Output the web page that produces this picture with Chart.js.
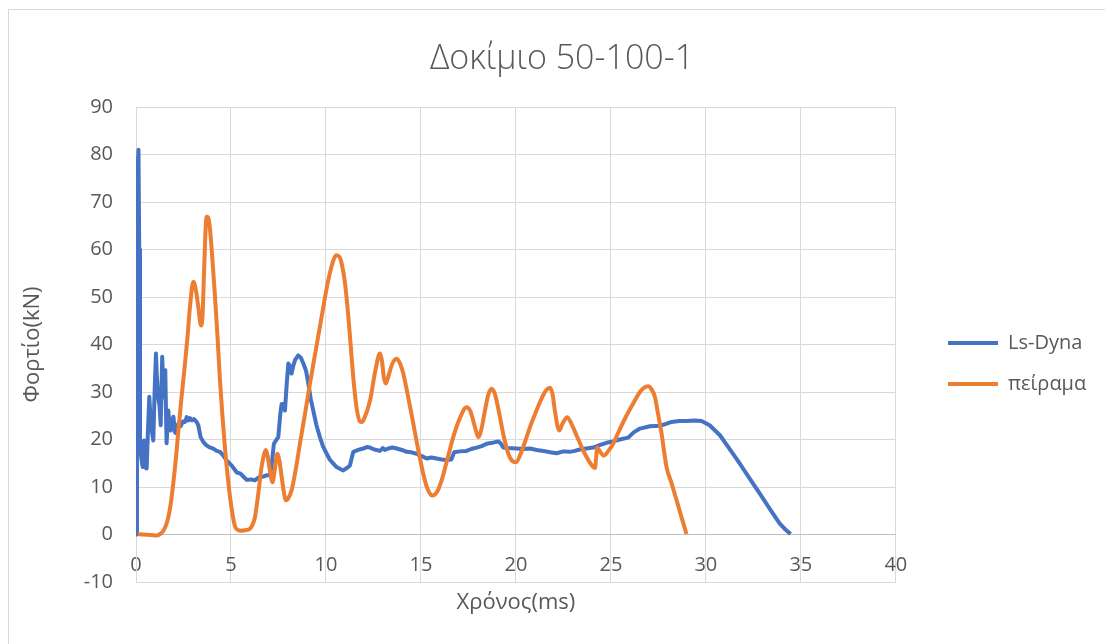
<!DOCTYPE html>
<html>
<head>
<meta charset="utf-8">
<script src="https://cdn.jsdelivr.net/npm/chart.js@4.4.1/dist/chart.umd.min.js"></script>
<style>
  html, body { margin: 0; padding: 0; background: #fff; overflow: hidden; }
  #frame { position: absolute; left: 8px; top: 9px; width: 1200px; height: 700px;
           border-top: 1px solid #d9d9d9; border-left: 1px solid #d9d9d9; }
  #chart { position: absolute; left: 0; top: 0; }
</style>
</head>
<body>
<div id="frame"></div>
<canvas id="chart" width="1105" height="644"></canvas>
<script>
/* Δοκίμιο 50-100-1 : Ls-Dyna vs πείραμα */

// Ls-Dyna (ms, kN)
const lsDynaTime = [
  0.00, 0.05, 0.10, 0.13, 0.17, 0.21, 0.28, 0.35, 0.42, 0.47, 0.52, 0.56, 0.63, 0.70, 0.77, 0.83,
  0.91, 0.98, 1.05, 1.10, 1.17, 1.24, 1.30, 1.38, 1.43, 1.47, 1.54, 1.61, 1.70, 1.77, 1.83, 1.90,
  1.97, 2.05, 2.12, 2.23, 2.35, 2.47, 2.58, 2.67, 2.75, 2.84, 2.95, 3.05, 3.19, 3.28, 3.40, 3.54,
  3.70, 3.85, 4.07, 4.25, 4.42, 4.60, 4.77, 5.04, 5.30, 5.50, 5.70, 5.83, 6.05, 6.26, 6.45, 6.70,
  6.90, 7.05, 7.15, 7.26, 7.40, 7.49, 7.60, 7.67, 7.75, 7.84, 7.94, 8.02, 8.10, 8.19, 8.28, 8.37,
  8.54, 8.68, 8.81, 8.95, 9.07, 9.20, 9.33, 9.50, 9.68, 9.85, 10.04, 10.20, 10.39, 10.56, 10.75, 10.91,
  11.10, 11.26, 11.35, 11.44, 11.70, 11.96, 12.15, 12.32, 12.55, 12.84, 13.00, 13.10, 13.28, 13.50, 13.72, 14.00,
  14.25, 14.50, 14.77, 15.05, 15.30, 15.55, 15.83, 16.10, 16.35, 16.60, 16.75, 17.05, 17.40, 17.65, 17.93, 18.20,
  18.46, 18.75, 19.07, 19.20, 19.33, 19.60, 20.04, 20.40, 20.74, 21.10, 21.44, 21.80, 22.14, 22.50, 22.84, 23.10,
  23.37, 23.70, 24.07, 24.40, 24.77, 25.10, 25.47, 25.91, 26.20, 26.53, 27.05, 27.58, 27.90, 28.19, 28.60, 28.98,
  29.40, 29.77, 30.20, 30.74, 31.20, 31.79, 32.30, 32.84, 33.40, 33.89, 34.20, 34.46
];
const lsDynaLoad = [
  0, 40, 78, 81, 60, 20, 16, 14.2, 19.8, 19.5, 14, 13.9, 22, 29, 24, 21.9,
  19.8, 30, 38.1, 33, 28.9, 27, 23, 37.4, 32, 28.9, 34.6, 19.2, 26.1, 23, 21.9, 24,
  24.8, 21.5, 21.3, 23.4, 22.8, 23.8, 23.7, 24.7, 24.0, 24.5, 24.0, 24.3, 23.7, 23.0, 20.5, 19.5,
  18.8, 18.4, 18.1, 17.6, 17.4, 16.6, 15.6, 14.5, 13.1, 12.8, 12.0, 11.5, 11.6, 11.4, 12.0, 12.2,
  12.5, 12.4, 15, 19.1, 20.0, 20.5, 25.5, 27.5, 27.5, 26.1, 32, 36.0, 35.5, 33.9, 35.5, 36.7,
  37.7, 37.2, 36.0, 34.5, 31.8, 28.5, 26.1, 23, 20.5, 18.5, 17.0, 15.8, 14.9, 14.2, 13.8, 13.5,
  14.0, 14.5, 16.0, 17.4, 17.8, 18.1, 18.4, 18.3, 17.9, 17.6, 18.2, 17.8, 18.1, 18.3, 18.1, 17.8,
  17.4, 17.3, 17.0, 16.5, 16.0, 16.2, 16.0, 15.8, 15.7, 15.8, 17.3, 17.5, 17.6, 18.0, 18.3, 18.6,
  19.1, 19.3, 19.6, 19.2, 18.3, 18.2, 18.1, 18.0, 18.1, 17.8, 17.6, 17.3, 17.1, 17.5, 17.4, 17.6,
  17.9, 18.1, 18.3, 18.8, 19.3, 19.6, 20.0, 20.4, 21.5, 22.3, 22.8, 22.9, 23.3, 23.7, 23.9, 23.9,
  24.0, 23.9, 23.0, 20.9, 18.3, 14.9, 11.8, 8.6, 5.2, 2.3, 1.0, 0.1
];

// πείραμα (ms, kN)
const testTime = [
  0.10, 0.40, 0.80, 1.09, 1.30, 1.44, 1.60, 1.70, 1.83, 1.96, 2.10, 2.23, 2.40, 2.58, 2.72, 2.84,
  3.02, 3.15, 3.28, 3.42, 3.50, 3.58, 3.65, 3.72, 3.82, 3.90, 4.03, 4.16, 4.30, 4.42, 4.55, 4.68,
  4.82, 4.95, 5.10, 5.21, 5.35, 5.47, 5.75, 6.00, 6.15, 6.26, 6.45, 6.61, 6.75, 6.84, 6.93, 7.05,
  7.19, 7.30, 7.44, 7.55, 7.67, 7.78, 7.89, 8.00, 8.19, 8.40, 8.63, 8.90, 9.16, 9.42, 9.68, 9.90,
  10.12, 10.35, 10.53, 10.70, 10.83, 11.00, 11.18, 11.35, 11.44, 11.60, 11.79, 11.88, 12.00, 12.32, 12.60, 12.84,
  12.95, 13.05, 13.16, 13.30, 13.50, 13.72, 13.90, 14.07, 14.30, 14.60, 14.85, 15.12, 15.35, 15.61, 15.85, 16.09,
  16.40, 16.70, 17.05, 17.40, 17.60, 17.75, 17.90, 18.02, 18.20, 18.37, 18.55, 18.72, 18.90, 19.16, 19.33, 19.60,
  19.80, 20.00, 20.30, 20.74, 21.05, 21.35, 21.60, 21.79, 21.93, 22.05, 22.18, 22.28, 22.45, 22.70, 22.90, 23.19,
  23.45, 23.72, 23.95, 24.16, 24.22, 24.28, 24.45, 24.63, 24.85, 25.12, 25.45, 25.83, 26.20, 26.53, 26.75, 26.96,
  27.15, 27.32, 27.50, 27.67, 27.80, 27.93, 28.20, 28.46, 28.72, 28.98
];
const testLoad = [
  0.1, 0.0, -0.1, -0.2, 0.2, 0.8, 2.2, 3.6, 6.5, 10.7, 16, 21.9, 29, 36.0, 42, 47.9,
  53.2, 51.5, 47.9, 44.0, 46, 55, 63, 66.9, 66.5, 64.1, 57.5, 50.0, 41, 32.5, 25, 18.4,
  12.5, 7.9, 3.8, 1.7, 1.0, 0.8, 0.9, 1.2, 2.2, 3.6, 9, 14.2, 17.0, 17.8, 16.5, 13.5,
  11.0, 13.5, 17.0, 15.5, 12.1, 9.0, 7.2, 7.5, 9.3, 13.5, 19.1, 25.5, 31.8, 37.8, 43.7, 48.8,
  53.5, 57.2, 58.8, 58.5, 57.0, 53.0, 45.8, 37.4, 33.0, 27.0, 23.8, 23.7, 24.3, 28.2, 34.5, 38.1,
  36.5, 33.0, 31.8, 33.5, 36.0, 37.0, 36.0, 33.9, 29.5, 23.3, 18.0, 12.8, 9.6, 8.2, 9.0, 11.4,
  16.0, 20.5, 24.5, 26.8, 26.0, 24.0, 21.8, 20.5, 22.5, 26.1, 29.5, 30.7, 29.5, 24.7, 21.2, 17.0,
  15.5, 15.2, 17.5, 22.6, 25.8, 28.6, 30.4, 30.9, 29.5, 26.1, 23.0, 21.9, 23.3, 24.7, 23.5, 20.9,
  18.5, 16.3, 14.8, 14.0, 16.0, 18.3, 17.3, 16.6, 17.5, 19.1, 22.0, 25.1, 27.8, 30.0, 30.9, 31.2,
  30.5, 28.9, 25.0, 21.2, 17.5, 14.2, 10.7, 7.2, 3.6, 0.1
];

// axis ranges
const xMin = 0, xMax = 40, xStep = 5;
const yMin = -10, yMax = 90, yStep = 10;

const FONT = 'Open Sans';
const TEXT = '#595959';
const GRID = '#d9d9d9';
const AXIS = '#bfbfbf';

const toPoints = (xs, ys) => xs.map((x, i) => ({ x, y: ys[i] }));

// legend next to the plot and the title centred over the whole frame, like Excel does it
const boxPlace = {
  id: 'boxPlace',
  afterLayout(chart) {
    const lg = chart.legend;
    if (lg && lg.columnSizes && lg.columnSizes.length) {
      const pad = lg.options.labels.padding;
      const dx = 948 - (lg.left + pad);
      lg.left += dx; lg.right += dx;
      const y0 = (lg.top + pad + lg.bottom - lg.columnSizes[0].height) / 2;
      const dy = 333 - y0;
      lg.top += dy; lg.bottom += dy;
    }
    const t = chart.titleBlock;
    if (t) {
      const tx = 562 - (t.left + t.right) / 2;
      t.left += tx; t.right += tx;
    }
  }
};

const chart = new Chart(document.getElementById('chart'), {
  type: 'scatter',
  data: {
    datasets: [
      {
        label: 'Ls-Dyna',
        data: toPoints(lsDynaTime, lsDynaLoad),
        showLine: true,
        borderColor: '#4472c4',
        backgroundColor: '#4472c4',
        borderWidth: 4,
        borderJoinStyle: 'round',
        pointRadius: 0,
        tension: 0,
        order: 1
      },
      {
        label: 'πείραμα',
        data: toPoints(testTime, testLoad),
        showLine: true,
        borderColor: '#ed7d31',
        backgroundColor: '#ed7d31',
        borderWidth: 4,
        borderJoinStyle: 'round',
        pointRadius: 0,
        cubicInterpolationMode: 'monotone',
        order: 0
      }
    ]
  },
  options: {
    responsive: false,
    animation: false,
    layout: { padding: { top: 0, left: 0, right: 40, bottom: 0 } },
    plugins: {
      title: {
        display: true,
        text: 'Δοκίμιο 50-100-1',
        color: TEXT,
        font: { family: FONT, size: 34, weight: '300' },
        padding: { top: 38.6, bottom: 27.6 }
      },
      legend: {
        display: true,
        position: 'right',
        labels: {
          color: TEXT,
          font: { family: FONT, size: 20 },
          usePointStyle: true,
          pointStyle: 'line',
          pointStyleWidth: 50,
          padding: 21,
          sort: (a, b) => a.datasetIndex - b.datasetIndex
        }
      },
      tooltip: { enabled: false }
    },
    scales: {
      x: {
        type: 'linear',
        min: xMin, max: xMax,
        ticks: {
          stepSize: xStep,
          color: TEXT,
          font: { family: FONT, size: 20 },
          mirror: true,   // labels sit inside the -10..0 band, just under the zero line
          padding: 5,
          maxRotation: 0
        },
        grid: { color: GRID, lineWidth: 1, drawTicks: false },
        border: { display: true, color: GRID },
        title: {
          display: true,
          text: 'Χρόνος(ms)',
          color: TEXT,
          font: { family: FONT, size: 22 },
          padding: { top: 0, bottom: 28 }
        },
        afterFit(scale) { scale.height = 62; }
      },
      y: {
        type: 'linear',
        min: yMin, max: yMax,
        ticks: {
          stepSize: yStep,
          color: TEXT,
          font: { family: FONT, size: 20 },
          padding: 23
        },
        grid: {
          color: c => (c.tick && c.tick.value === 0 ? AXIS : GRID),
          lineWidth: 1,
          drawTicks: false
        },
        border: { display: true, color: GRID },
        title: {
          display: true,
          text: 'Φορτίο(kN)',
          color: TEXT,
          font: { family: FONT, size: 22 },
          padding: { top: 20, bottom: 0 }
        },
        afterFit(scale) { scale.width = 136; }
      }
    }
  },
  plugins: [boxPlace]
});

// keep the plot's right edge at x = 896
const diff = chart.chartArea.right - 896;
if (Math.abs(diff) > 0.5) {
  chart.options.layout.padding.right += diff;
  chart.update();
}
</script>
</body>
</html>
